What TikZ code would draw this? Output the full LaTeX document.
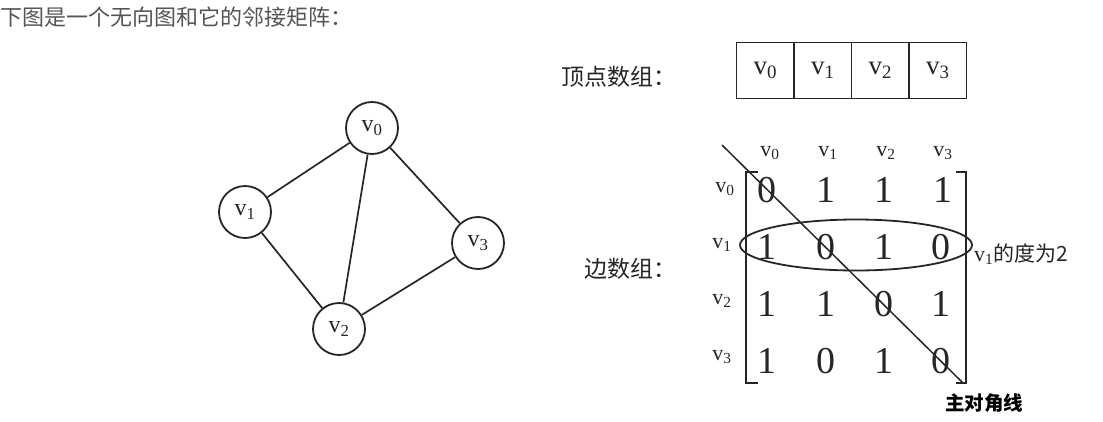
\documentclass[tikz,border=0pt]{standalone}
\usepackage{fontspec}
\setmainfont{Liberation Serif}
\newfontfamily\cjk{Noto Sans CJK SC}
\usetikzlibrary{shapes.geometric}
\definecolor{ink}{HTML}{262626}
\definecolor{titlegray}{HTML}{555555}
\tikzset{
  vert/.style={circle,draw=ink,line width=1.8pt,minimum size=52pt,inner sep=0pt,font=\fontsize{24}{24}\selectfont,text=ink},
  edge/.style={draw=ink,line width=1.7pt},
  cell/.style={draw=ink,line width=1.8pt,outer sep=0pt,minimum width=57.5pt,minimum height=56pt,inner sep=0pt,font=\fontsize{27}{27}\selectfont,text=ink},
  mlab/.style={font=\fontsize{22}{22}\selectfont,text=ink,inner sep=0pt},
  entry/.style={font=\fontsize{38}{38}\selectfont,text=ink,inner sep=0pt},
  cjklab/.style={font=\cjk\fontsize{23}{23}\selectfont,text=ink,inner sep=0pt,anchor=west},
  brk/.style={draw=ink,line width=2pt},
}
\begin{document}
\begin{tikzpicture}[x=1pt,y=-1pt]
\useasboundingbox (0,0) rectangle (1103,421);
% title
\node[anchor=west,inner sep=0pt,font=\cjk\fontsize{22}{22}\selectfont,text=titlegray] (title) at (0,17) {下图是一个无向图和它的邻接矩阵：};
% graph
\node[vert] (g0) at (372,128) {v\textsubscript{0}};
\node[vert] (g1) at (245,212) {v\textsubscript{1}};
\node[vert] (g3) at (478,243) {v\textsubscript{3}};
\node[vert] (g2) at (339,329) {v\textsubscript{2}};
\draw[edge] (g0) -- (g1);
\draw[edge] (g0) -- (g2);
\draw[edge] (g0) -- (g3);
\draw[edge] (g1) -- (g2);
\draw[edge] (g2) -- (g3);
% vertex array
\node[cjklab] (vlab) at (561,77) {顶点数组：};
\node[cell] (c0) at (765.25,70.5) {v\textsubscript{0}};
\node[cell,anchor=west] (c1) at (c0.east) {v\textsubscript{1}};
\node[cell,anchor=west] (c2) at (c1.east) {v\textsubscript{2}};
\node[cell,anchor=west] (c3) at (c2.east) {v\textsubscript{3}};
% edge array
\node[cjklab] (elab) at (584,269) {边数组：};
% column headers
\node[mlab] (h0) at (770,153) {v\textsubscript{0}};
\node[mlab] (h1) at (828,153) {v\textsubscript{1}};
\node[mlab] (h2) at (886,153) {v\textsubscript{2}};
\node[mlab] (h3) at (943,153) {v\textsubscript{3}};
% row headers
\node[mlab] (r0) at (725,189) {v\textsubscript{0}};
\node[mlab] (r1) at (722,245) {v\textsubscript{1}};
\node[mlab] (r2) at (722,301) {v\textsubscript{2}};
\node[mlab] (r3) at (722,357) {v\textsubscript{3}};
% entries
\node[entry] (e00) at (767,190) {0};
\node[entry] (e01) at (826,190) {1};
\node[entry] (e02) at (884,190) {1};
\node[entry] (e03) at (943,190) {1};
\node[entry] (e10) at (767,247) {1};
\node[entry] (e11) at (826,247) {0};
\node[entry] (e12) at (884,247) {1};
\node[entry] (e13) at (941,247) {0};
\node[entry] (e20) at (767,304) {1};
\node[entry] (e21) at (826,304) {1};
\node[entry] (e22) at (884,304) {0};
\node[entry] (e23) at (941,304) {1};
\node[entry] (e30) at (767,361) {1};
\node[entry] (e31) at (826,361) {0};
\node[entry] (e32) at (884,361) {1};
\node[entry] (e33) at (941,361) {0};
% brackets
\coordinate (lbt) at (746,172);
\coordinate (lbb) at (746,383);
\coordinate (rbt) at (966,172);
\coordinate (rbb) at (966,383);
\draw[brk] ([xshift=12pt]lbt) -- (lbt) -- (lbb) -- ([xshift=12pt]lbb);
\draw[brk] ([xshift=-10pt]rbt) -- (rbt) -- (rbb) -- ([xshift=-10pt]rbb);
% diagonal
\coordinate (dstart) at (722,145);
\coordinate (dend) at (963,383);
\draw[edge,line width=1.5pt] (dstart) -- (dend);
% ellipse
\node[ellipse,draw=ink,line width=1.8pt,minimum width=232pt,minimum height=51pt,inner sep=0pt] (ell) at (856,245) {};
\node[cjklab,font=\cjk\fontsize{21}{21}\selectfont] (deg) at (974,254) {{\rmfamily\fontsize{22}{22}\selectfont v\textsubscript{1}}的度为2};
\node[anchor=west,inner sep=0pt,font=\cjk\bfseries\fontsize{19.5}{19.5}\selectfont,text=black] (diag) at (945,403) {主对角线};
\end{tikzpicture}
\end{document}
